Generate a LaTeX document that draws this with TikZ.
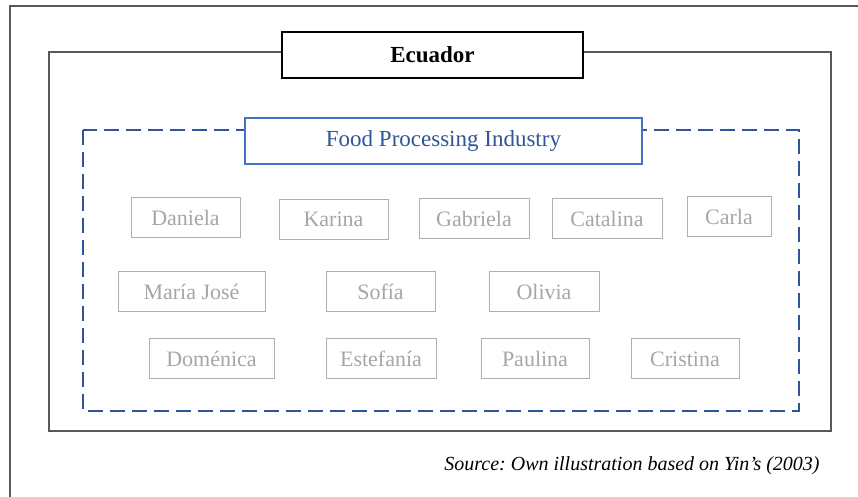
\documentclass[tikz,border=0pt]{standalone}
\usepackage{fontspec}
\setmainfont{Liberation Serif}
\usetikzlibrary{positioning}
\definecolor{darkblue}{HTML}{2F5597}
\definecolor{midblue}{HTML}{4472C4}
\definecolor{namegray}{HTML}{A6A6A6}
\definecolor{framegray}{HTML}{595959}
\tikzset{
	country/.style={draw=black, line width=1pt, fill=white, minimum width=150.5pt, minimum height=23pt, font=\fontsize{11.5}{13}\selectfont\bfseries},
	industry/.style={draw=midblue, line width=0.8pt, fill=white, text=darkblue, minimum width=198.5pt, minimum height=23pt, font=\fontsize{11.5}{13}\selectfont},
	% one box per company
	firm/.style={draw=namegray!90, line width=0.5pt, text=namegray, minimum height=20pt, inner sep=2pt, font=\fontsize{11}{13}\selectfont},
}
\frenchspacing

\begin{document}
\begin{tikzpicture}[x=0.5pt, y=-0.5pt]
		
		\useasboundingbox (0,0) rectangle (858,497);
		
		% page frame
		\draw[framegray, line width=0.6pt] (10,497) -- (10,6) -- (858,6);
		
		\coordinate (ecnw) at (49,52);
		\coordinate (ecse) at (831,431);
		\draw[framegray, line width=0.6pt] (ecnw) rectangle (ecse);
		
		\coordinate (fpnw) at (83,130);
		\coordinate (fpse) at (799,411);
		\draw[darkblue, line width=1pt, dash pattern=on 7.5pt off 3.5pt] (fpnw) rectangle (fpse);
		
		\node (ecuador) [country] at (432.5,55) {Ecuador};
		
		\node (industry) [industry] at (443.5,141) {Food Processing Industry};
		
		\node (daniela) [firm, minimum width=54.5pt] at (185.5,218) {Daniela};
		\node (karina) [firm, minimum width=54.5pt] at (333.5,219.5) {Karina};
		\node (gabriela) [firm, minimum width=55pt] at (474,219) {Gabriela};
		\node (catalina) [firm, minimum width=55pt] at (607,219) {Catalina};
		\node (carla) [firm, minimum width=42pt] at (729,217) {Carla};
		
		\node (mariajose) [firm, minimum width=73.5pt] at (191.5,291.5) {María José};
		\node (sofia) [firm, minimum width=54.5pt] at (380.5,291.5) {Sofía};
		\node (olivia) [firm, minimum width=55pt] at (544,291.5) {Olivia};
		
		\node (domenica) [firm, minimum width=62.5pt] at (211.5,359) {Doménica};
		\node (estefania) [firm, minimum width=55pt] at (381,359) {Estefanía};
		\node (paulina) [firm, minimum width=54pt] at (535,359) {Paulina};
		\node (cristina) [firm, minimum width=54pt] at (685,359) {Cristina};
		
		\node (source) at (632,466) {\fontsize{10}{12}\selectfont\itshape Source: Own illustration based on Yin’s (2003)};
		
	\end{tikzpicture}
\end{document}
